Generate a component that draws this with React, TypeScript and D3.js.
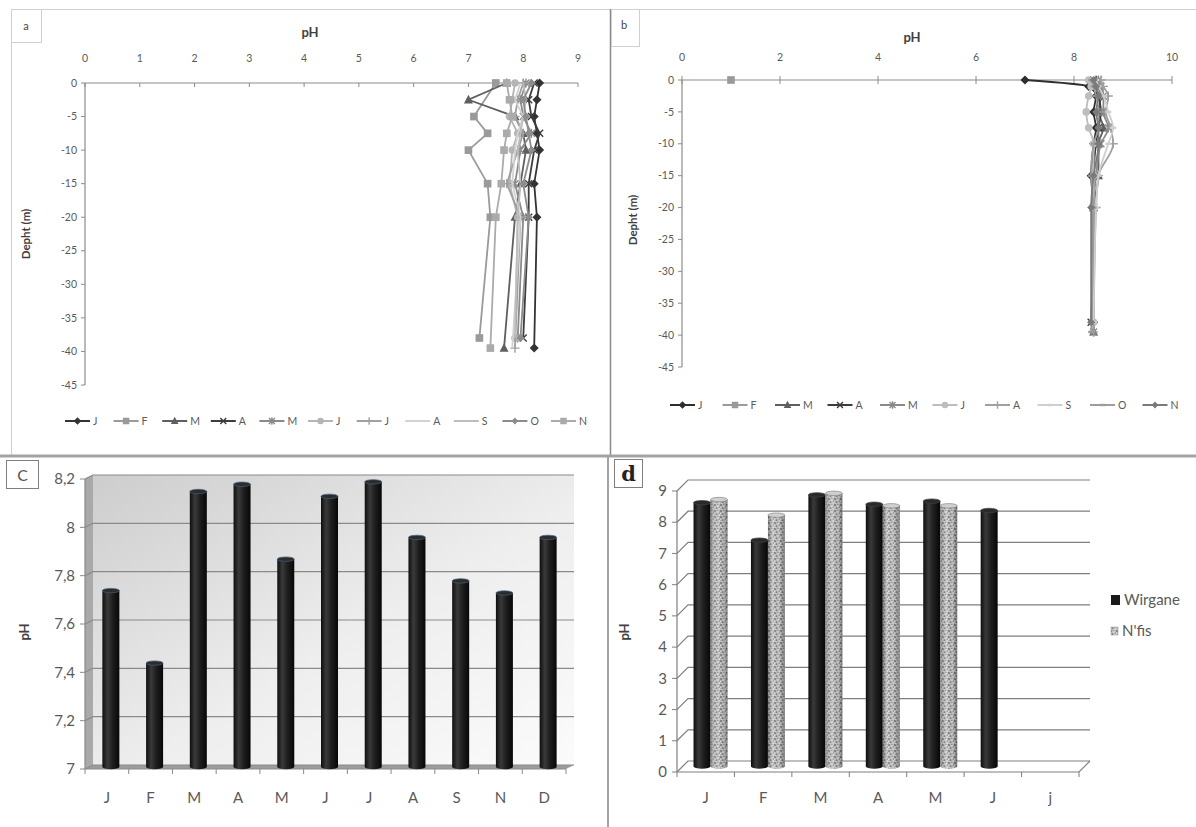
import React from 'react';
import * as d3 from 'd3';

const FONT = 'Lato, "Liberation Sans", Arial, sans-serif';
const TXT = '#595959';

// ---------- Panel a : monthly pH profiles vs depth ----------
const depthsA = [0, -2.5, -5, -7.5, -10, -15, -20, -38, -39.5];
const labelsA = ['J', 'F', 'M', 'A', 'M', 'J', 'J', 'A', 'S', 'O', 'N'];
const phA_Jan = [8.3, 8.25, 8.2, 8.25, 8.3, 8.2, 8.25, null, 8.2];
const phA_Feb = [7.5, null, 7.1, 7.35, 7.0, 7.35, 7.4, 7.2, null];
const phA_Mar = [7.7, 7.0, 7.85, 8.0, 8.05, 7.95, 7.85, null, 7.65];
const phA_Apr = [8.2, 8.1, 8.15, 8.3, 8.2, 8.1, 8.1, 8.0, null];
const phA_May = [8.05, 7.95, 8.0, 8.15, 7.95, 7.85, 8.0, 7.9, null];
const phA_Jun = [7.85, 7.8, 7.75, 7.9, 7.8, 7.75, 7.9, 7.85, null];
const phA_Jul = [8.0, 7.9, 7.85, 8.0, 7.9, 7.7, 7.95, null, 7.85];
const phA_Aug = [7.95, 7.85, 8.0, 7.9, 7.85, 7.8, 7.95, null, 7.8];
const phA_Sep = [8.0, 8.05, 8.0, 7.95, 7.9, 7.95, 7.9, 7.85, null];
const phA_Oct = [8.15, 8.0, 8.05, 8.1, 8.15, 8.0, 8.1, 7.95, null];
const phA_Nov = [7.7, 7.75, 7.8, 7.7, 7.65, 7.6, 7.5, null, 7.4];
const valuesA = [phA_Jan, phA_Feb, phA_Mar, phA_Apr, phA_May, phA_Jun, phA_Jul, phA_Aug, phA_Sep, phA_Oct, phA_Nov];
const xTicksA = [0, 1, 2, 3, 4, 5, 6, 7, 8, 9];

// ---------- Panel b : monthly pH profiles vs depth ----------
const depthsB = [0, -1, -2.5, -5, -7.5, -10, -15, -20, -38, -39.5];
const labelsB = ['J', 'F', 'M', 'A', 'M', 'J', 'A', 'S', 'O', 'N'];
const phB_Jan = [7.0, 8.3, 8.45, 8.4, 8.45, 8.4, 8.35, 8.4, 8.4, null];
const phB_Feb = [1.0, null, null, null, null, null, null, null, null, null];
const phB_Mar = [8.45, 8.5, 8.55, 8.5, 8.6, 8.5, 8.5, 8.4, null, 8.4];
const phB_Apr = [8.4, 8.45, 8.5, 8.55, 8.5, 8.45, 8.4, 8.4, 8.35, null];
const phB_May = [8.5, 8.55, 8.6, 8.6, 8.7, 8.55, 8.45, 8.4, null, 8.4];
const phB_Jun = [8.3, 8.35, 8.3, 8.25, 8.3, 8.4, 8.4, 8.4, 8.4, null];
const phB_Aug = [8.55, 8.6, 8.7, 8.65, 8.75, 8.8, 8.5, 8.45, null, 8.4];
const phB_Sep = [8.45, 8.5, 8.6, 8.7, 8.8, 8.7, 8.5, 8.45, 8.4, null];
const phB_Oct = [8.35, 8.4, 8.45, 8.5, 8.5, 8.4, 8.35, 8.4, null, 8.35];
const phB_Nov = [8.4, 8.45, 8.5, 8.45, 8.5, 8.5, 8.4, 8.35, 8.35, null];
const valuesB = [phB_Jan, phB_Feb, phB_Mar, phB_Apr, phB_May, phB_Jun, phB_Aug, phB_Sep, phB_Oct, phB_Nov];
const xTicksB = [0, 2, 4, 6, 8, 10];
const yTicksProfile = [0, -5, -10, -15, -20, -25, -30, -35, -40, -45];

// ---------- Panel c : monthly mean pH ----------
const monthsC = ['J', 'F', 'M', 'A', 'M', 'J', 'J', 'A', 'S', 'N', 'D'];
const phC = [7.73, 7.43, 8.14, 8.17, 7.86, 8.12, 8.18, 7.95, 7.77, 7.72, 7.95];

// ---------- Panel d : pH at two sites ----------
const monthsD = ['J', 'F', 'M', 'A', 'M', 'J', 'j'];
const phWirgane = [8.45, 7.25, 8.7, 8.4, 8.5, 8.2, null];
const phNfis = [8.55, 8.05, 8.75, 8.35, 8.35, null, null];
const seriesD = ['Wirgane', "N'fis"];

type Mk = 'diamond' | 'square' | 'triangle' | 'x' | 'star' | 'circle' | 'plus' | 'dash' | 'none';
type Sty = { color: string; marker: Mk; size: number };

const stylesA: Sty[] = [
  { color: '#333333', marker: 'diamond', size: 4.5 },
  { color: '#9a9a9a', marker: 'square', size: 4.5 },
  { color: '#5f5f5f', marker: 'triangle', size: 4.5 },
  { color: '#3c3c3c', marker: 'x', size: 3.5 },
  { color: '#8a8a8a', marker: 'star', size: 3.5 },
  { color: '#b5b5b5', marker: 'circle', size: 3.8 },
  { color: '#a0a0a0', marker: 'plus', size: 3.5 },
  { color: '#d2d2d2', marker: 'none', size: 0 },
  { color: '#bdbdbd', marker: 'none', size: 0 },
  { color: '#8c8c8c', marker: 'diamond', size: 4 },
  { color: '#ababab', marker: 'square', size: 4.5 },
];
const stylesB: Sty[] = [
  { color: '#2e2e2e', marker: 'diamond', size: 4.5 },
  { color: '#9a9a9a', marker: 'square', size: 4.5 },
  { color: '#5f5f5f', marker: 'triangle', size: 4.5 },
  { color: '#3c3c3c', marker: 'x', size: 3.5 },
  { color: '#8a8a8a', marker: 'star', size: 3.5 },
  { color: '#bdbdbd', marker: 'circle', size: 3.8 },
  { color: '#a0a0a0', marker: 'plus', size: 3.5 },
  { color: '#cfcfcf', marker: 'dash', size: 3 },
  { color: '#9d9d9d', marker: 'dash', size: 3 },
  { color: '#7a7a7a', marker: 'diamond', size: 4 },
];

function marker(kind: Mk, x: number, y: number, color: string, s: number, key?: string | number) {
  const sw = 1.4;
  switch (kind) {
    case 'diamond':
      return <path key={key} d={`M${x},${y - s}L${x + s},${y}L${x},${y + s}L${x - s},${y}Z`} fill={color} />;
    case 'square':
      return <rect key={key} x={x - s * 0.85} y={y - s * 0.85} width={s * 1.7} height={s * 1.7} fill={color} />;
    case 'triangle':
      return <path key={key} d={`M${x},${y - s * 1.1}L${x + s},${y + s * 0.8}L${x - s},${y + s * 0.8}Z`} fill={color} />;
    case 'circle':
      return <circle key={key} cx={x} cy={y} r={s} fill={color} />;
    case 'x':
      return <path key={key} d={`M${x - s},${y - s}L${x + s},${y + s}M${x - s},${y + s}L${x + s},${y - s}`} stroke={color} strokeWidth={sw} fill="none" />;
    case 'star':
      return <path key={key} d={`M${x - s},${y - s}L${x + s},${y + s}M${x - s},${y + s}L${x + s},${y - s}M${x},${y - s * 1.3}L${x},${y + s * 1.3}`} stroke={color} strokeWidth={sw} fill="none" />;
    case 'plus':
      return <path key={key} d={`M${x - s * 1.3},${y}L${x + s * 1.3},${y}M${x},${y - s * 1.3}L${x},${y + s * 1.3}`} stroke={color} strokeWidth={sw} fill="none" />;
    case 'dash':
      return <path key={key} d={`M${x - s},${y}L${x + s},${y}`} stroke={color} strokeWidth={2.4} fill="none" />;
    default:
      return null;
  }
}

type ProfileProps = {
  xs: d3.ScaleLinear<number, number>;
  ys: d3.ScaleLinear<number, number>;
  xTicks: number[];
  depths: number[];
  values: (number | null)[][];
  labels: string[];
  styles: Sty[];
  title: [number, number];
  tickLabelY: number;
  yTitle: [number, number];
  legend: [number, number, number];
  smooth: boolean;
  crossTicks: boolean;
};

function ProfilePanel(p: ProfileProps) {
  const [x0, x1] = p.xs.range();
  const yTop = p.ys(0);
  const yBot = p.ys(-45);
  const line = d3
    .line<[number, number]>()
    .x((d) => p.xs(d[0]))
    .y((d) => p.ys(d[1]))
    .curve(p.smooth ? d3.curveMonotoneY : d3.curveLinear);
  return (
    <g fontFamily={FONT}>
      <text x={p.title[0]} y={p.title[1]} fontSize={13} fontWeight="bold" fill="#404040" textAnchor="middle">pH</text>
      {p.xTicks.map((t) => (
        <g key={t}>
          <text x={p.xs(t)} y={p.tickLabelY} fontSize={10.5} fill={TXT} textAnchor="middle" dy="0.35em">{t}</text>
          <line x1={p.xs(t)} x2={p.xs(t)} y1={p.crossTicks ? yTop - 4 : yTop} y2={yTop + 4} stroke="#8c8c8c" />
        </g>
      ))}
      <line x1={x0} x2={x1} y1={yTop} y2={yTop} stroke="#8c8c8c" strokeWidth={1.2} />
      <line x1={x0} x2={x0} y1={yTop} y2={yBot} stroke="#8c8c8c" strokeWidth={1.2} />
      {yTicksProfile.map((t) => (
        <g key={t}>
          <line x1={x0 - 4} x2={x0} y1={p.ys(t)} y2={p.ys(t)} stroke="#8c8c8c" />
          <text x={x0 - 8} y={p.ys(t)} dy="0.35em" fontSize={10.5} fill={TXT} textAnchor="end">{String(t)}</text>
        </g>
      ))}
      <text
        transform={`translate(${p.yTitle[0]},${p.yTitle[1]}) rotate(-90)`}
        fontSize={11.5}
        fontWeight="bold"
        fill="#404040"
        textAnchor="middle"
      >
        Depht (m)
      </text>
      {p.values.map((vals, i) => {
        const pts = vals
          .map((v, j) => (v == null ? null : ([v, p.depths[j]] as [number, number])))
          .filter((d): d is [number, number] => d != null);
        const st = p.styles[i];
        return (
          <g key={i}>
            {pts.length > 1 && <path d={line(pts) || ''} fill="none" stroke={st.color} strokeWidth={1.8} />}
            {pts.map((d, j) => marker(st.marker, p.xs(d[0]), p.ys(d[1]), st.color, st.size, j))}
          </g>
        );
      })}
      {p.labels.map((lab, i) => {
        const lx = p.legend[0] + i * p.legend[2];
        const ly = p.legend[1];
        const st = p.styles[i];
        return (
          <g key={i}>
            <line x1={lx} x2={lx + 25} y1={ly} y2={ly} stroke={st.color} strokeWidth={2} />
            {marker(st.marker, lx + 12.5, ly, st.color, st.size * 0.85)}
            <text x={lx + 28} y={ly} dy="0.35em" fontSize={10.5} fill={TXT}>{lab}</text>
          </g>
        );
      })}
    </g>
  );
}

function Cylinder({ cx, w, top, bottom, fill, shade, cap, capStroke }: { cx: number; w: number; top: number; bottom: number; fill: string; shade?: string; cap: string; capStroke: string }) {
  const rx = w / 2;
  const ry = 2.2;
  const body = `M${cx - rx},${top}L${cx - rx},${bottom}A${rx},${ry} 0 0 0 ${cx + rx},${bottom}L${cx + rx},${top}Z`;
  return (
    <g>
      <path d={body} fill={fill} />
      {shade && <path d={body} fill={shade} />}
      <ellipse cx={cx} cy={top} rx={rx} ry={ry} fill={cap} stroke={capStroke} strokeWidth={0.7} />
    </g>
  );
}

function PanelC() {
  const x = d3.scaleBand<number>().domain(d3.range(monthsC.length)).range([85, 566]);
  const y = d3.scaleLinear().domain([7, 8.2]).range([769, 479]);
  const dx = 8;
  const dy = -4;
  const [xl, xr] = x.range();
  const ticks = y.ticks(6);
  const fmt = (v: number) => String(Math.round(v * 10) / 10).replace('.', ',');
  const bw = x.bandwidth();
  return (
    <g fontFamily={FONT}>
      {/* back wall, side wall, floor */}
      <rect x={xl + dx} y={y(8.2) + dy} width={xr - xl} height={y(7) - y(8.2)} fill="url(#wallC)" />
      <path d={`M${xl},${y(8.2)}L${xl + dx},${y(8.2) + dy}L${xl + dx},${y(7) + dy}L${xl},${y(7)}Z`} fill="#a9a9a9" />
      <path d={`M${xl},${y(7)}L${xr},${y(7)}L${xr + dx},${y(7) + dy}L${xl + dx},${y(7) + dy}Z`} fill="#9c9c9c" />
      {ticks.map((t) => (
        <g key={t}>
          <path d={`M${xl},${y(t)}L${xl + dx},${y(t) + dy}L${xr + dx},${y(t) + dy}`} fill="none" stroke="#8a8a8a" strokeWidth={1.2} />
          <line x1={xl - 5} x2={xl} y1={y(t)} y2={y(t)} stroke="#8a8a8a" />
          <text x={xl - 10} y={y(t)} dy="0.35em" fontSize={15} fill={TXT} textAnchor="end">{fmt(t)}</text>
        </g>
      ))}
      <line x1={xl} x2={xl} y1={y(7)} y2={y(8.2)} stroke="#8a8a8a" strokeWidth={1.2} />
      <line x1={xl} x2={xr} y1={y(7)} y2={y(7)} stroke="#8a8a8a" strokeWidth={1.2} />
      {d3.range(monthsC.length + 1).map((i) => (
        <line key={i} x1={xl + i * bw} x2={xl + i * bw} y1={y(7)} y2={y(7) + 5} stroke="#8a8a8a" />
      ))}
      {phC.map((v, i) => (
        <Cylinder
          key={i}
          cx={(x(i) as number) + bw / 2 + dx / 2}
          w={17}
          top={y(v) + dy / 2}
          bottom={y(7) + dy / 2}
          fill="url(#barBlack)"
          cap="#2c2c2c"
          capStroke="#3f5f80"
        />
      ))}
      {monthsC.map((m, i) => (
        <text key={i} x={(x(i) as number) + bw / 2} y={798} dy="0.35em" fontSize={15} fill={TXT} textAnchor="middle">{m}</text>
      ))}
      <text transform="translate(29,632) rotate(-90)" fontSize={13} fontWeight="bold" fill="#404040" textAnchor="middle">pH</text>
      <rect x={6.5} y={460.5} width={32} height={28} fill="#fff" stroke="#7f7f7f" />
      <text x={22.5} y={475} dy="0.35em" fontSize={16} fill="#555" textAnchor="middle">C</text>
    </g>
  );
}

function PanelD() {
  const x = d3.scaleBand<number>().domain(d3.range(monthsD.length)).range([677, 1079]);
  const y = d3.scaleLinear().domain([0, 9]).range([772, 491]);
  const dx = 11;
  const dy = -11;
  const [xl, xr] = x.range();
  const bw = x.bandwidth();
  const ticks = y.ticks(9);
  const barW = 17;
  return (
    <g fontFamily={FONT}>
      {ticks.map((t) => (
        <g key={t}>
          <path d={`M${xl},${y(t)}L${xl + dx},${y(t) + dy}L${xr + dx},${y(t) + dy}`} fill="none" stroke="#7f7f7f" strokeWidth={1.2} />
          <line x1={xl - 5} x2={xl} y1={y(t)} y2={y(t)} stroke="#7f7f7f" />
          <text x={xl - 10} y={y(t)} dy="0.35em" fontSize={15} fill={TXT} textAnchor="end">{t}</text>
        </g>
      ))}
      <path d={`M${xl},${y(0)}L${xr},${y(0)}L${xr + dx},${y(0) + dy}`} fill="none" stroke="#7f7f7f" strokeWidth={1.2} />
      <line x1={xl} x2={xl} y1={y(0)} y2={y(9)} stroke="#7f7f7f" strokeWidth={1.2} />
      {d3.range(monthsD.length + 1).map((i) => (
        <line key={i} x1={xl + i * bw} x2={xl + i * bw} y1={y(0)} y2={y(0) + 5} stroke="#7f7f7f" />
      ))}
      {monthsD.map((m, i) => {
        const c1 = (x(i) as number) + bw * 0.34 + dx / 2;
        const c2 = c1 + barW;
        const w = phWirgane[i];
        const n = phNfis[i];
        return (
          <g key={i}>
            {w != null && (
              <Cylinder cx={c1} w={barW} top={y(w) + dy / 2} bottom={y(0) + dy / 2} fill="url(#barBlack)" cap="#2a2a2a" capStroke="#444" />
            )}
            {n != null && (
              <Cylinder cx={c2} w={barW} top={y(n) + dy / 2} bottom={y(0) + dy / 2} fill="url(#speck)" shade="url(#cylShade)" cap="#d0d0d0" capStroke="#888" />
            )}
          </g>
        );
      })}
      {monthsD.map((m, i) => (
        <text key={i} x={(x(i) as number) + bw / 2} y={798} dy="0.35em" fontSize={15} fill={TXT} textAnchor="middle">{m}</text>
      ))}
      <text transform="translate(629,632) rotate(-90)" fontSize={13} fontWeight="bold" fill="#404040" textAnchor="middle">pH</text>
      {/* legend */}
      <rect x={1111} y={595} width={9} height={10} fill="#1a1a1a" />
      <text x={1124} y={600} dy="0.35em" fontSize={15} fill={TXT}>{seriesD[0]}</text>
      <rect x={1111} y={627} width={7} height={8} fill="url(#speck)" stroke="#999" strokeWidth={0.5} />
      <text x={1122} y={631} dy="0.35em" fontSize={15} fill={TXT}>{seriesD[1]}</text>
      <rect x={614.5} y={459.5} width={28} height={28} fill="#fff" stroke="#7f7f7f" />
      <text x={628.5} y={474} dy="0.35em" fontSize={21} fontWeight="bold" fontFamily='"DejaVu Serif", "Liberation Serif", serif' fill="#2a1f1f" textAnchor="middle">d</text>
    </g>
  );
}

const speckDots: [number, number, number, string][] = [
  [1, 1, 0.9, '#6f6f6f'],
  [4, 2, 0.8, '#f2f2f2'],
  [2.5, 4.2, 0.9, '#808080'],
  [5.2, 5, 0.7, '#f7f7f7'],
  [0.6, 3.4, 0.6, '#e2e2e2'],
  [3.6, 0.2, 0.6, '#8f8f8f'],
  [5.4, 2.9, 0.5, '#777'],
  [1.8, 5.6, 0.5, '#ededed'],
];

export default function App() {
  const xA = d3.scaleLinear().domain([0, 9]).range([85, 578]);
  const yA = d3.scaleLinear().domain([0, -45]).range([83, 385]);
  const xB = d3.scaleLinear().domain([0, 10]).range([682, 1172]);
  const yB = d3.scaleLinear().domain([0, -45]).range([80, 367]);
  return (
    <div style={{ position: 'absolute', left: 0, top: 0 }}>
      <svg width={1196} height={827} style={{ display: 'block', background: '#fff' }}>
        <defs>
          <linearGradient id="barBlack" x1="0" x2="1" y1="0" y2="0">
            <stop offset="0" stopColor="#0e0e0e" />
            <stop offset="0.3" stopColor="#3a3a3a" />
            <stop offset="0.6" stopColor="#1e1e1e" />
            <stop offset="1" stopColor="#070707" />
          </linearGradient>
          <linearGradient id="cylShade" x1="0" x2="1" y1="0" y2="0">
            <stop offset="0" stopColor="#000" stopOpacity="0.35" />
            <stop offset="0.35" stopColor="#fff" stopOpacity="0.1" />
            <stop offset="0.7" stopColor="#000" stopOpacity="0.05" />
            <stop offset="1" stopColor="#000" stopOpacity="0.35" />
          </linearGradient>
          <linearGradient id="wallC" x1="0" y1="0" x2="1" y2="1">
            <stop offset="0" stopColor="#cdcdcd" />
            <stop offset="0.55" stopColor="#eeeeee" />
            <stop offset="1" stopColor="#fbfbfb" />
          </linearGradient>
          <pattern id="speck" width={6} height={6} patternUnits="userSpaceOnUse">
            <rect width={6} height={6} fill="#bcbcbc" />
            {speckDots.map((d, i) => (
              <circle key={i} cx={d[0]} cy={d[1]} r={d[2]} fill={d[3]} />
            ))}
          </pattern>
        </defs>

        {/* frames */}
        <line x1={11} x2={1196} y1={9.5} y2={9.5} stroke="#d0d0d0" />
        <line x1={11.5} x2={11.5} y1={9} y2={455} stroke="#d0d0d0" />
        <line x1={610.5} x2={610.5} y1={9} y2={455} stroke="#8a8a8a" strokeWidth={1.5} />
        <line x1={0} x2={1196} y1={456} y2={456} stroke="#a3a3a3" strokeWidth={3} />
        <line x1={608} x2={608} y1={456} y2={827} stroke="#a3a3a3" strokeWidth={2} />

        <rect x={11.5} y={9.5} width={30} height={33} fill="#fff" stroke="#d0d0d0" />
        <text x={26} y={26} dy="0.35em" fontSize={11} fontFamily={FONT} fill="#444" textAnchor="middle">a</text>
        <rect x={611.5} y={9.5} width={28} height={37} fill="#fff" stroke="#d0d0d0" />
        <text x={624} y={25} dy="0.35em" fontSize={11} fontFamily={FONT} fill="#444" textAnchor="middle">b</text>

        <ProfilePanel
          xs={xA}
          ys={yA}
          xTicks={xTicksA}
          depths={depthsA}
          values={valuesA}
          labels={labelsA}
          styles={stylesA}
          title={[310, 37]}
          tickLabelY={58}
          yTitle={[30, 234]}
          legend={[65, 421, 48.6]}
          smooth={false}
          crossTicks={false}
        />
        <ProfilePanel
          xs={xB}
          ys={yB}
          xTicks={xTicksB}
          depths={depthsB}
          values={valuesB}
          labels={labelsB}
          styles={stylesB}
          title={[912, 42]}
          tickLabelY={57}
          yTitle={[637, 220]}
          legend={[670, 405, 52.5]}
          smooth={true}
          crossTicks={true}
        />
        <PanelC />
        <PanelD />
      </svg>
    </div>
  );
}
